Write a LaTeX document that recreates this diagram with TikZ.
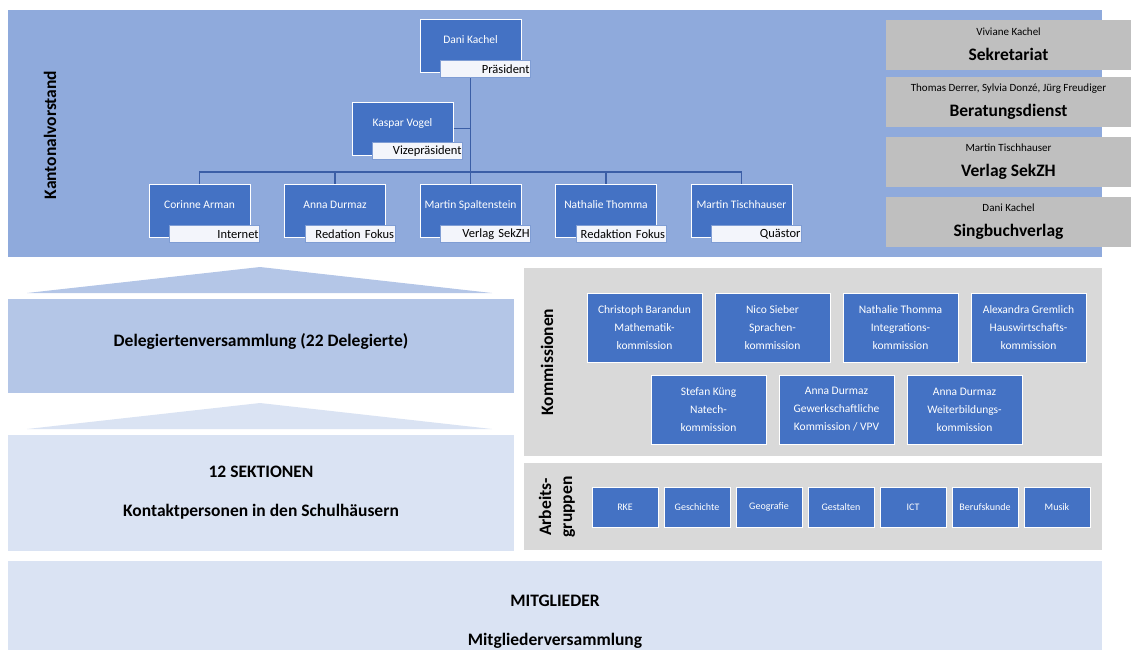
\documentclass[tikz,border=0pt]{standalone}
\usepackage{fontspec}
\setmainfont{Carlito}
\usetikzlibrary{positioning}
\definecolor{panelblue}{HTML}{8FAADC}
\definecolor{boxblue}{HTML}{4472C4}
\definecolor{linkblue}{HTML}{3B5EA6}
\definecolor{tagedge}{HTML}{7F9DD4}
\definecolor{tagfill}{HTML}{F3F5FB}
\definecolor{greybox}{HTML}{BFBFBF}
\definecolor{greypanel}{HTML}{D9D9D9}
\definecolor{midblue}{HTML}{B4C6E7}
\definecolor{paleblue}{HTML}{DAE3F3}

\tikzset{
  person/.style={draw=white, line width=1pt, fill=boxblue, text=white,
    minimum width=101pt, minimum height=53pt, inner sep=0pt, text depth=12pt,
    font=\fontsize{11.5}{13}\selectfont},
  role/.style={draw=tagedge, line width=0.8pt, fill=tagfill, anchor=south east,
    minimum width=90pt, minimum height=17pt, inner sep=0pt, text width=88pt,
    align=right, font=\fontsize{12.5}{14}\selectfont},
  link/.style={draw=linkblue, line width=1.5pt},
  office/.style={fill=greybox, minimum width=245pt, minimum height=50pt,
    inner sep=0pt, align=center, font=\fontsize{17.5}{20}\selectfont\bfseries},
  komm/.style={draw=white, line width=1pt, fill=boxblue, text=white,
    minimum width=115pt, minimum height=69pt, inner sep=0pt, align=center,
    font=\fontsize{11.5}{18}\selectfont},
  group/.style={draw=white, line width=1pt, fill=boxblue, text=white,
    minimum width=66pt, minimum height=40pt, inner sep=0pt,
    font=\fontsize{10}{12}\selectfont},
  band/.style={inner sep=0pt, align=center, font=\fontsize{17.5}{20}\selectfont\bfseries},
  sidetitle/.style={rotate=90, align=center, font=\fontsize{17.5}{21}\selectfont\bfseries}
}

\begin{document}
\begin{tikzpicture}[x=1pt,y=-1pt]
  \useasboundingbox (0,0) rectangle (1131,649);

  \fill[panelblue] (8,10) rectangle (1102,257);
  \node[sidetitle] (kv) at (50,135) {Kantonalvorstand};

  \node[person] (pres) at (470.5,45.5) {Dani Kachel};
  \node[role] (presrole) at (531,78) {Präsident};
  \node[person] (vice) at (402.5,128.5) {Kaspar Vogel};
  \node[role] (vicerole) at (463,160) {Vizepräsident};

  \foreach \n/\x/\who/\what in {m1/199.5/Corinne Arman/Internet,
      m2/335/Anna Durmaz/Redation Fokus,
      m3/470.5/Martin Spaltenstein/Verlag SekZH,
      m4/606/Nathalie Thomma/Redaktion Fokus,
      m5/741.5/Martin Tischhauser/Quästor} {
    \node[person] (\n) at (\x,210.5) {\who};
    \node[role] (\n role) at (\x+60.5,243) {\what};
  }

  \coordinate (hub) at (470.5,172);
  \draw[link] (pres |- presrole.south) -- (hub);
  \draw[link] (vice.east) -- (vice.east -| hub);
  \draw[link] (m1.north) -- (m1.north |- hub) -| (m5.north);
  \foreach \n in {m2,m3,m4}
    \draw[link] (\n.north) -- (\n.north |- hub);

  \node[office] (sek) at (1008.5,44.5)
    {{\mdseries\fontsize{11}{20}\selectfont Viviane Kachel}\\[5pt]Sekretariat};
  \node[office] (ber) at (1008.5,102)
    {{\mdseries\fontsize{11}{20}\selectfont Thomas Derrer, Sylvia Donzé, Jürg Freudiger}\\[5pt]Beratungsdienst};
  \node[office] (vlg) at (1008.5,162)
    {{\mdseries\fontsize{11}{20}\selectfont Martin Tischhauser}\\[5pt]Verlag SekZH};
  \node[office] (sbv) at (1008.5,221.5)
    {{\mdseries\fontsize{11}{20}\selectfont Dani Kachel}\\[5pt]Singbuchverlag};

  \fill[midblue] (27,293) -- (260,267) -- (492,293) -- cycle;
  \node[band, fill=midblue, minimum width=506pt, minimum height=94pt, text depth=12pt]
    (dv) at (261,346) {Delegiertenversammlung (22 Delegierte)};
  \fill[paleblue] (27,429) -- (260,403) -- (492,429) -- cycle;
  \node[band, fill=paleblue, minimum width=506pt, minimum height=116pt]
    (sekt) at (261,493) {12 SEKTIONEN\\[19pt]Kontaktpersonen in den Schulhäusern};

  \fill[paleblue] (8,561) rectangle (1102,700);
  \node[band] (mitgl) at (555,622) {MITGLIEDER\\[19pt]Mitgliederversammlung};

  \fill[greypanel] (524,268) rectangle (1102,456);
  \node[sidetitle] (kom) at (547,362) {Kommissionen};
  \node[komm] (k1) at (644.5,327.5) {Christoph Barandun\\Mathematik-\\kommission};
  \node[komm] (k2) at (772.5,327.5) {Nico Sieber\\Sprachen-\\kommission};
  \node[komm] (k3) at (900.5,327.5) {Nathalie Thomma\\Integrations-\\kommission};
  \node[komm] (k4) at (1028.5,327.5) {Alexandra Gremlich\\Hauswirtschafts-\\kommission};
  \node[komm] (k5) at (708.5,409.5) {Stefan Küng\\Natech-\\kommission};
  \node[komm] (k6) at (836.5,409.5) {Anna Durmaz\\Gewerkschaftliche\\Kommission / VPV};
  \node[komm] (k7) at (964.5,409.5) {Anna Durmaz\\Weiterbildungs-\\kommission};

  \fill[greypanel] (524,463) rectangle (1102,550);
  \node[sidetitle] (ag) at (557,507) {Arbeits-\\gruppen};
  \foreach \n/\what [count=\i from 0] in {g1/RKE, g2/Geschichte, g3/Geografie,
      g4/Gestalten, g5/ICT, g6/Berufskunde, g7/Musik}
    \node[group] (\n) at (625+72*\i,507) {\what};
\end{tikzpicture}
\end{document}
